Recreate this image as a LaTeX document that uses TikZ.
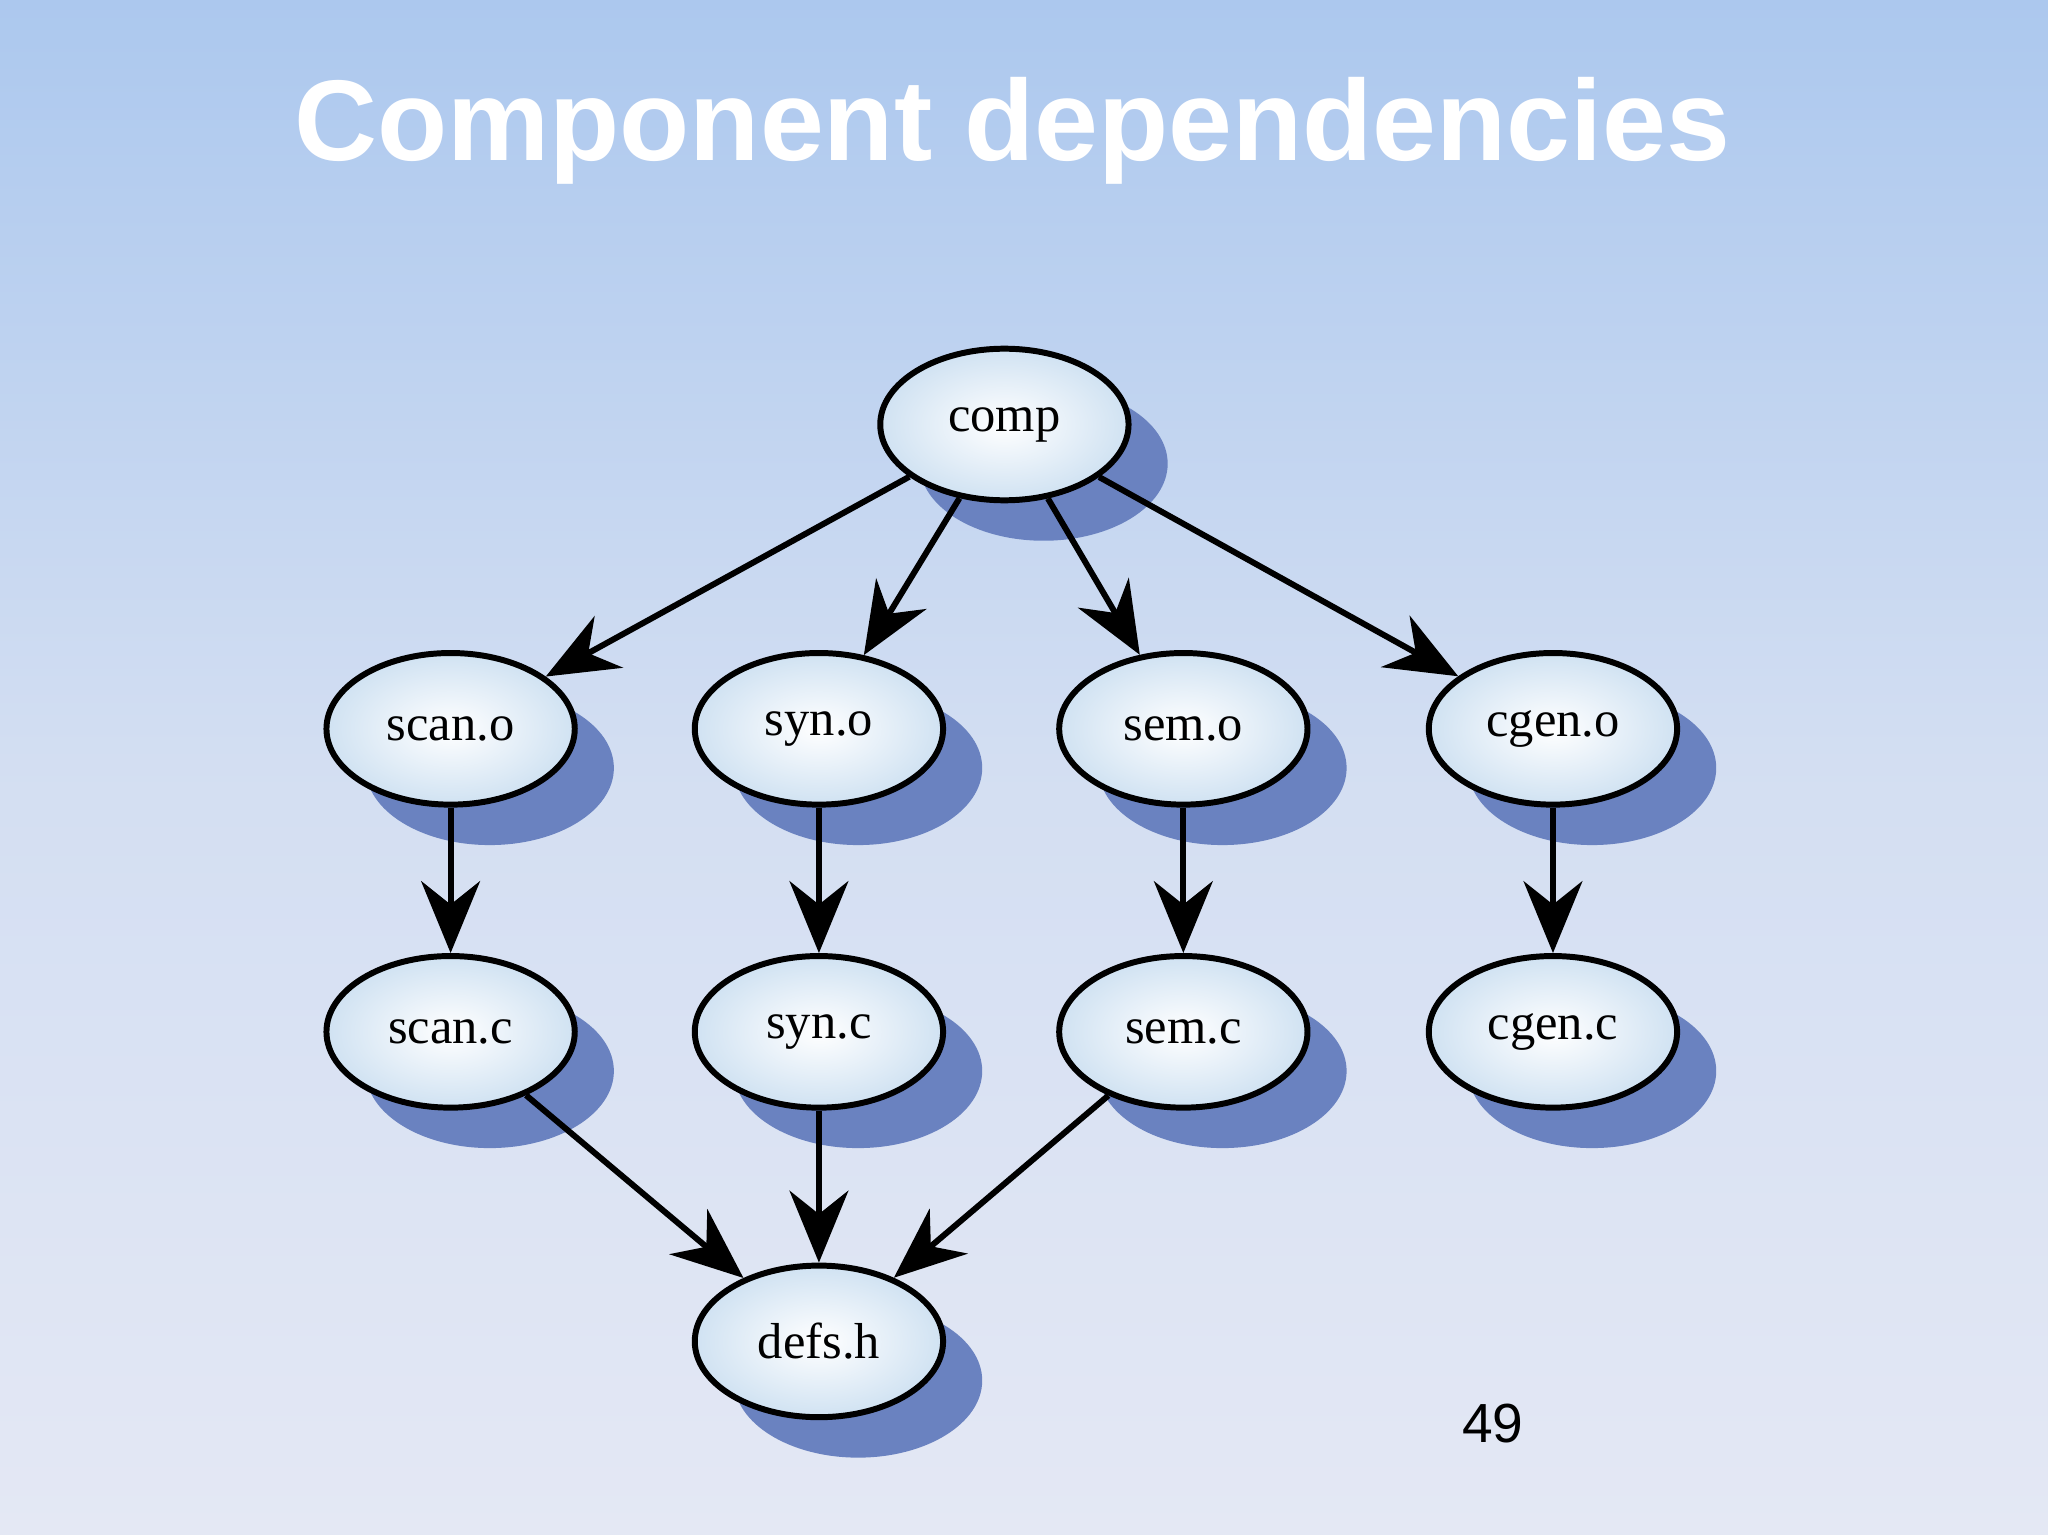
\documentclass[tikz,border=0pt]{standalone}
\usepackage{fontspec}
\setmainfont{Liberation Serif}
\newfontfamily\sansf{Liberation Sans}
\usetikzlibrary{shapes.geometric,arrows.meta}
\definecolor{bgtop}{RGB}{172,200,238}
\definecolor{bgbot}{RGB}{228,232,244}
\definecolor{shad}{RGB}{106,130,192}
\definecolor{ballout}{RGB}{208,226,242}
\begin{document}
\begin{tikzpicture}[x=0.01cm,y=-0.01cm,
  mod/.style={ellipse,draw=black,line width=1.3pt,minimum width=1.9cm,minimum height=1.16cm,
    inner sep=1pt,inner color=white,outer color=ballout,font=\fontsize{11}{11}\selectfont},
  dep/.style={-{Stealth[length=0.55cm,width=0.45cm]},line width=1.3pt}]
\shade[top color=bgtop,bottom color=bgbot,middle color=bgbot!70!bgtop] (0,0) rectangle (1568,1175);
\useasboundingbox (0,0) rectangle (1568,1175);
\node[font=\sansf\bfseries\fontsize{25}{25}\selectfont,text=white] (title) at (775,100) {Component dependencies};
\foreach \x/\y in {769/325, 345/558,627/558,906/558,1189/558, 345/790,627/790,906/790,1189/790, 627/1027}
  \fill[shad] (\x+30,\y+30) ellipse (95 and 59);
\node[mod] (comp) at (769,325) {comp};
\node[mod] (scano) at (345,558) {scan.o};
\node[mod] (syno) at (627,558) {syn.o};
\node[mod] (semo) at (906,558) {sem.o};
\node[mod] (cgeno) at (1189,558) {cgen.o};
\node[mod] (scanc) at (345,790) {scan.c};
\node[mod] (sync) at (627,790) {syn.c};
\node[mod] (semc) at (906,790) {sem.c};
\node[mod] (cgenc) at (1189,790) {cgen.c};
\node[mod] (defs) at (627,1027) {defs.h};
\node[font=\sansf\fontsize{12}{12}\selectfont] (num) at (1143,1090) {49};
\draw[dep] (comp) -- (scano);
\draw[dep] (comp) -- (syno);
\draw[dep] (comp) -- (semo);
\draw[dep] (comp) -- (cgeno);
\draw[dep] (scano) -- (scanc);
\draw[dep] (syno) -- (sync);
\draw[dep] (semo) -- (semc);
\draw[dep] (cgeno) -- (cgenc);
\draw[dep] (scanc) -- (defs);
\draw[dep] (sync) -- (defs);
\draw[dep] (semc) -- (defs);
\end{tikzpicture}
\end{document}
